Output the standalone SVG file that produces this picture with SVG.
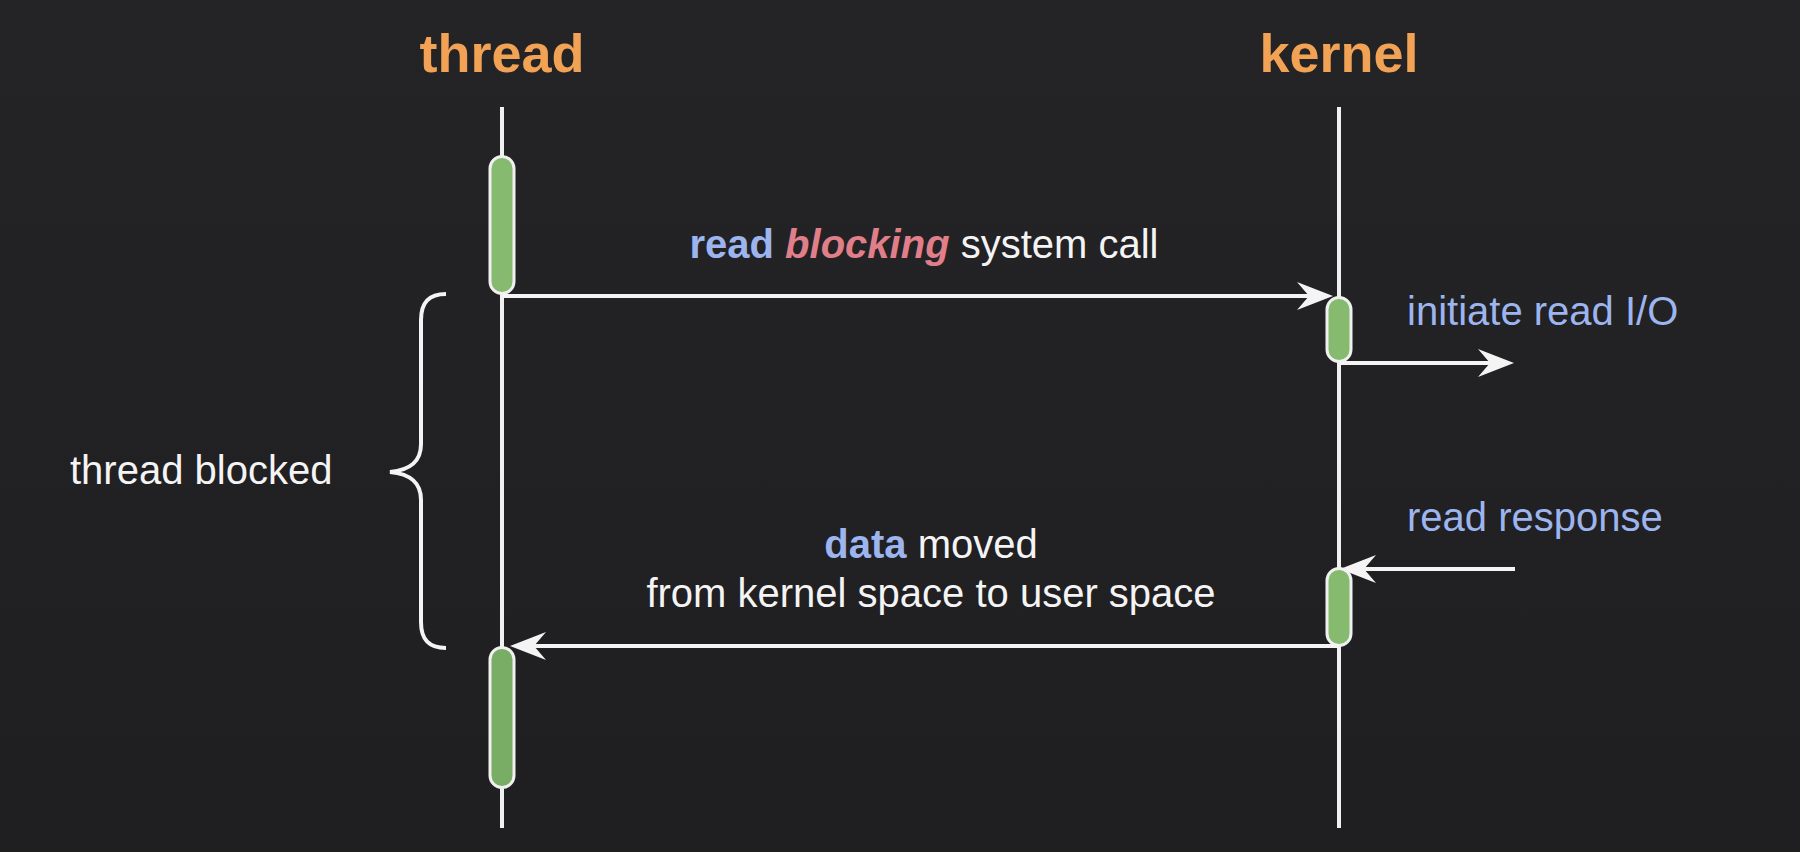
<svg xmlns="http://www.w3.org/2000/svg" width="1800" height="852" viewBox="0 0 1800 852">
<defs>
<style>
.title{font-family:"Liberation Sans",Arial,sans-serif;font-weight:bold;font-size:54px;fill:#F2A254;text-anchor:middle}
.lbl{font-family:"Liberation Sans",Arial,sans-serif;font-size:40px;fill:#F4F4F4}
.blue{fill:#9DB5EE}
.bb{font-weight:bold;fill:#9DB5EE}
.pink{font-weight:bold;font-style:italic;fill:#E07F8A}
.life{stroke:#F0F0F0;stroke-width:4;fill:none}
.act{fill:#86BA6F;stroke:#F0F0F0;stroke-width:3}
.conn{stroke:#F4F4F4;stroke-width:4;fill:none}
</style>
<linearGradient id="bg" x1="0" y1="0" x2="0" y2="1">
<stop offset="0" stop-color="#242326"/>
<stop offset="1" stop-color="#1F1E21"/>
</linearGradient>
<marker id="ah" viewBox="0 -15 37 30" markerWidth="37" markerHeight="30" refX="12" refY="0" orient="auto" markerUnits="userSpaceOnUse">
<path d="M36,0 L0,-14 L12,0 L0,14 Z" fill="#F4F4F4"/>
</marker>
</defs>
<rect width="1800" height="852" fill="url(#bg)"/>

<g id="thread">
<text class="title" x="502" y="72">thread</text>
<line class="life" x1="502" y1="107" x2="502" y2="828"/>
</g>
<g id="kernel">
<text class="title" x="1339" y="72">kernel</text>
<line class="life" x1="1339" y1="107" x2="1339" y2="828"/>
</g>

<g id="thread-act-1"><rect class="act" x="490" y="156.5" width="24" height="137" rx="12"/></g>
<g id="thread-act-2"><rect class="act" x="490" y="647.5" width="24" height="140" rx="12" style="fill:#79AD65"/></g>
<g id="kernel-act-1"><rect class="act" x="1327" y="297.5" width="24" height="64" rx="12"/></g>
<g id="kernel-act-2"><rect class="act" x="1327" y="568.5" width="24" height="77" rx="12"/></g>

<g id="connectors">
<line class="conn" x1="502" y1="296" x2="1309" y2="296" marker-end="url(#ah)"/>
<line class="conn" x1="1339" y1="363" x2="1490" y2="363" marker-end="url(#ah)"/>
<line class="conn" x1="1515" y1="569" x2="1364" y2="569" marker-end="url(#ah)"/>
<line class="conn" x1="1339" y1="646" x2="534" y2="646" marker-end="url(#ah)"/>
</g>

<g id="brace">
<path class="conn" d="M446,294 C429,294 421,302 421,320 L421,444 C421,462 410,470 390,472 C410,474 421,482 421,500 L421,622 C421,640 429,648 446,648"/>
<text class="lbl" x="70" y="484">thread blocked</text>
</g>

<g id="labels">
<text class="lbl" x="924" y="258" text-anchor="middle"><tspan class="bb">read</tspan> <tspan class="pink">blocking</tspan> system call</text>
<text class="lbl blue" x="1407" y="325">initiate read I/O</text>
<text class="lbl blue" x="1407" y="531">read response</text>
<text class="lbl" x="931" y="558" text-anchor="middle"><tspan class="bb">data</tspan> moved</text>
<text class="lbl" x="931" y="607" text-anchor="middle">from kernel space to user space</text>
</g>
</svg>
